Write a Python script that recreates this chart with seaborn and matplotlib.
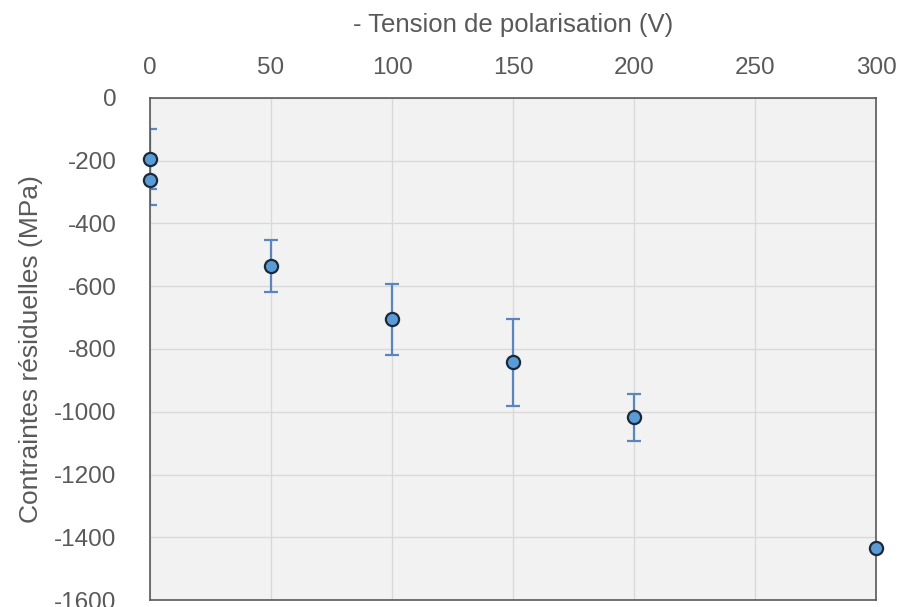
import matplotlib.pyplot as plt
import seaborn as sns
import pandas as pd

# données
tension = [0, 0, 50, 100, 150, 200, 300]
contrainte = [-195, -262, -535, -705, -843, -1018, -1435]
erreur = [95, 78, 83, 113, 140, 75, 0]

df = pd.DataFrame({'tension': tension, 'contrainte': contrainte, 'erreur': erreur})

sns.set_style('whitegrid')
plt.rcParams['font.family'] = ['Liberation Sans', 'DejaVu Sans']
plt.rcParams['axes.unicode_minus'] = False

fig = plt.figure(figsize=(9.01, 6.07), dpi=100)
ax = fig.add_axes([0.1665, 0.0115, 0.8058, 0.8271])
ax.set_facecolor('#f2f2f2')

# barres d'erreur
ax.errorbar(df['tension'], df['contrainte'], yerr=df['erreur'], fmt='none',
            ecolor='#5a86bd', elinewidth=1.6, capsize=5, capthick=1.6, zorder=2)

# points
sns.scatterplot(data=df, x='tension', y='contrainte', ax=ax, s=90,
                color='#5b9bd5', edgecolor='#1b2a3a', linewidth=1.6, zorder=3,
                clip_on=False)

ax.set_xlim(0, 300)
ax.set_ylim(-1600, 0)
ax.set_xticks(range(0, 301, 50))
ax.set_yticks(range(-1600, 1, 200))
ax.xaxis.tick_top()
ax.xaxis.set_label_position('top')
ax.tick_params(axis='both', length=0, labelsize=17.5, labelcolor='#595959')
ax.tick_params(axis='x', pad=14)
ax.tick_params(axis='y', pad=24)

ax.set_xlabel('- Tension de polarisation (V)', fontsize=18.5, color='#595959', labelpad=18)
ax.set_ylabel('Contraintes résiduelles (MPa)', fontsize=19, color='#595959', labelpad=8)

ax.grid(True, color='#d9d9d9', linewidth=1)
for side in ['left', 'right', 'top', 'bottom']:
    ax.spines[side].set_visible(True)
    ax.spines[side].set_color('#595959')
    ax.spines[side].set_linewidth(1.2)

fig.savefig('out.png', dpi=100)
